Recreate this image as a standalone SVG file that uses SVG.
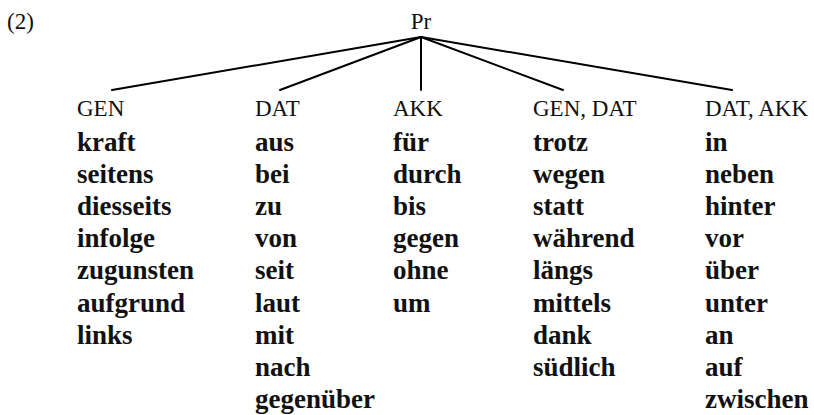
<svg xmlns="http://www.w3.org/2000/svg" width="814" height="415" viewBox="0 0 814 415">
<style>
.h{font-family:"Liberation Serif","Times New Roman",serif;font-size:23px;fill:#111}
.w{font-family:"Liberation Serif","Times New Roman",serif;font-size:27px;font-weight:bold;fill:#111}
.e{stroke:#000;stroke-width:2;fill:none;stroke-linecap:round}
</style>
<rect width="814" height="415" fill="#fff"/>
<text class="h" x="7" y="29">(2)</text>
<g id="root"><text class="h" x="421" y="29" text-anchor="middle">Pr</text></g>
<g id="connectors">
<line class="e" x1="421" y1="37" x2="112" y2="90"/>
<line class="e" x1="421" y1="37" x2="280" y2="90"/>
<line class="e" x1="421" y1="37" x2="421" y2="90"/>
<line class="e" x1="421" y1="37" x2="563" y2="90"/>
<line class="e" x1="421" y1="37" x2="732" y2="90"/>
</g>
<g id="gen">
<text class="h" x="77" y="116">GEN</text>
<text class="w" x="77" y="151">kraft</text>
<text class="w" x="77" y="183.1">seitens</text>
<text class="w" x="77" y="215.2">diesseits</text>
<text class="w" x="77" y="247.3">infolge</text>
<text class="w" x="77" y="279.4">zugunsten</text>
<text class="w" x="77" y="311.5">aufgrund</text>
<text class="w" x="77" y="343.6">links</text>
</g>
<g id="dat">
<text class="h" x="255" y="116">DAT</text>
<text class="w" x="255" y="151">aus</text>
<text class="w" x="255" y="183.1">bei</text>
<text class="w" x="255" y="215.2">zu</text>
<text class="w" x="255" y="247.3">von</text>
<text class="w" x="255" y="279.4">seit</text>
<text class="w" x="255" y="311.5">laut</text>
<text class="w" x="255" y="343.6">mit</text>
<text class="w" x="255" y="375.7">nach</text>
<text class="w" x="255" y="407.8">gegenüber</text>
</g>
<g id="akk">
<text class="h" x="393" y="116">AKK</text>
<text class="w" x="393" y="151">für</text>
<text class="w" x="393" y="183.1">durch</text>
<text class="w" x="393" y="215.2">bis</text>
<text class="w" x="393" y="247.3">gegen</text>
<text class="w" x="393" y="279.4">ohne</text>
<text class="w" x="393" y="311.5">um</text>
</g>
<g id="gen-dat">
<text class="h" x="533" y="116">GEN, DAT</text>
<text class="w" x="533" y="151">trotz</text>
<text class="w" x="533" y="183.1">wegen</text>
<text class="w" x="533" y="215.2">statt</text>
<text class="w" x="533" y="247.3">während</text>
<text class="w" x="533" y="279.4">längs</text>
<text class="w" x="533" y="311.5">mittels</text>
<text class="w" x="533" y="343.6">dank</text>
<text class="w" x="533" y="375.7">südlich</text>
</g>
<g id="dat-akk">
<text class="h" x="705" y="116">DAT, AKK</text>
<text class="w" x="705" y="151">in</text>
<text class="w" x="705" y="183.1">neben</text>
<text class="w" x="705" y="215.2">hinter</text>
<text class="w" x="705" y="247.3">vor</text>
<text class="w" x="705" y="279.4">über</text>
<text class="w" x="705" y="311.5">unter</text>
<text class="w" x="705" y="343.6">an</text>
<text class="w" x="705" y="375.7">auf</text>
<text class="w" x="705" y="407.8">zwischen</text>
</g>
</svg>
